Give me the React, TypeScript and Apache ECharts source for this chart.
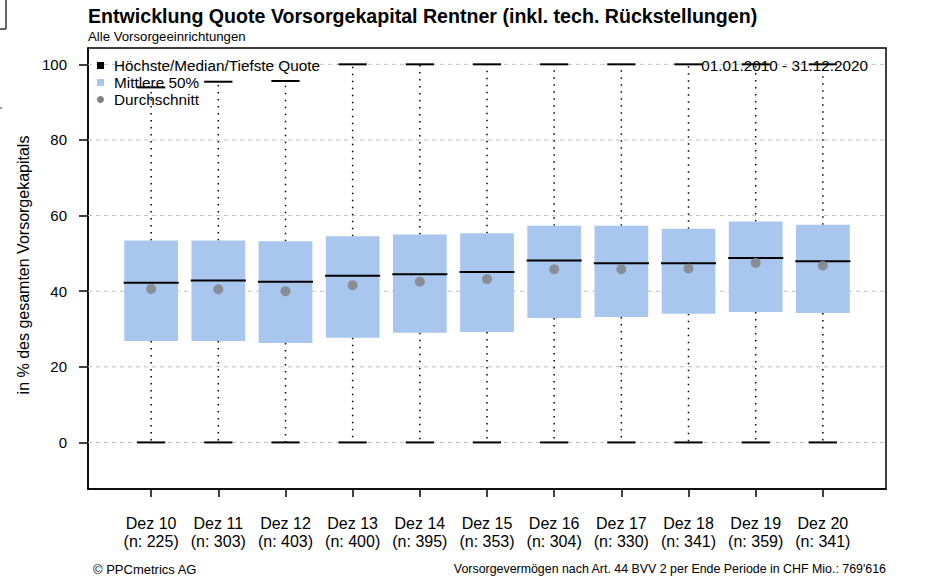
import React, { useEffect, useRef } from "react";
import * as echarts from "echarts";

const categories = ["Dez 10", "Dez 11", "Dez 12", "Dez 13", "Dez 14", "Dez 15", "Dez 16", "Dez 17", "Dez 18", "Dez 19", "Dez 20"];
const counts = [225, 303, 403, 400, 395, 353, 304, 330, 341, 359, 341];
const maxValues = [93.9, 95.4, 95.6, 100, 100, 100, 100, 100, 100, 100, 100];
const q3Values = [53.4, 53.4, 53.2, 54.5, 55.0, 55.3, 57.3, 57.3, 56.5, 58.4, 57.6];
const medianValues = [42.2, 42.8, 42.5, 44.1, 44.5, 45.1, 48.1, 47.4, 47.4, 48.8, 47.9];
const q1Values = [26.8, 26.8, 26.3, 27.7, 29.0, 29.2, 32.9, 33.2, 34.0, 34.5, 34.2];
const minValues = [0, 0, 0, 0, 0, 0, 0, 0, 0, 0, 0];
const meanValues = [40.6, 40.5, 40.0, 41.6, 42.5, 43.2, 45.8, 45.8, 46.0, 47.5, 46.8];
const yTicks = [0, 20, 40, 60, 80, 100];

const X_MIN = 0.06;
const X_MAX = 11.94;
const Y_MIN = -12.32;
const Y_MAX = 104.32;

export default function App() {
  const ref = useRef<HTMLDivElement>(null);

  useEffect(() => {
    if (!ref.current) return;
    const chart = echarts.init(ref.current, undefined, { renderer: "svg" });
    const positions = categories.map((_, i) => i + 1);
    const boxData = categories.map((_, i) => [i + 1, minValues[i], q1Values[i], medianValues[i], q3Values[i], maxValues[i]]);
    const meanData = categories.map((_, i) => [i + 1, meanValues[i]]);
    const font = "'Liberation Sans', Arial, sans-serif";

    const option: any = {
      animation: false,
      textStyle: { fontFamily: font },
      grid: {
        left: 88,
        right: 40,
        top: 48,
        bottom: 89,
        show: true,
        borderColor: "#000",
        borderWidth: 1.5,
        backgroundColor: "transparent",
      },
      xAxis: {
        type: "value",
        min: X_MIN,
        max: X_MAX,
        splitLine: { show: false },
        axisLine: { show: true, onZero: false, lineStyle: { color: "#000", width: 1.5 } },
        axisTick: { show: true, customValues: positions, length: 8, lineStyle: { color: "#000", width: 1.5 } },
        axisLabel: {
          customValues: positions,
          formatter: (v: number) => {
            const i = Math.round(v) - 1;
            return categories[i] + "\n(n: " + counts[i] + ")";
          },
          color: "#000",
          fontSize: 16,
          lineHeight: 18,
          margin: 25,
          fontFamily: font,
        },
      },
      yAxis: {
        type: "value",
        min: Y_MIN,
        max: Y_MAX,
        splitLine: { show: false },
        axisLine: { show: true, lineStyle: { color: "#000", width: 1.5 } },
        axisTick: { show: true, customValues: yTicks, length: 9, lineStyle: { color: "#000", width: 1.5 } },
        axisLabel: { customValues: yTicks, color: "#000", fontSize: 15, margin: 21, fontFamily: font },
      },
      series: [
        {
          type: "custom",
          name: "grid",
          z: 1,
          silent: true,
          data: yTicks.map((v) => [v]),
          renderItem: (params: any, api: any) => {
            const v = api.value(0);
            const a = api.coord([X_MIN, v]);
            const b = api.coord([X_MAX, v]);
            return {
              type: "line",
              shape: { x1: a[0], y1: a[1], x2: b[0], y2: b[1] },
              style: { stroke: "#c0c0c0", lineWidth: 1, lineDash: [4, 4] },
            };
          },
        },
        {
          type: "custom",
          name: "box",
          z: 2,
          silent: true,
          data: boxData,
          renderItem: (params: any, api: any) => {
            const x = api.value(0);
            const lo = api.value(1);
            const q1 = api.value(2);
            const med = api.value(3);
            const q3 = api.value(4);
            const hi = api.value(5);
            const tl = api.coord([x - 0.4, q3]);
            const br = api.coord([x + 0.4, q1]);
            const mL = api.coord([x - 0.41, med]);
            const mR = api.coord([x + 0.41, med]);
            const c = api.coord([x, hi]);
            const cq3 = api.coord([x, q3]);
            const cq1 = api.coord([x, q1]);
            const cl = api.coord([x, lo]);
            const sHL = api.coord([x - 0.21, hi]);
            const sHR = api.coord([x + 0.21, hi]);
            const sLL = api.coord([x - 0.21, lo]);
            const sLR = api.coord([x + 0.21, lo]);
            const dot = { stroke: "#000", lineWidth: 1.5, lineDash: [1.5, 5.5] };
            return {
              type: "group",
              children: [
                { type: "line", shape: { x1: c[0], y1: cq3[1], x2: c[0], y2: c[1] }, style: dot },
                { type: "line", shape: { x1: c[0], y1: cq1[1], x2: c[0], y2: cl[1] }, style: dot },
                {
                  type: "rect",
                  shape: { x: tl[0], y: tl[1], width: br[0] - tl[0], height: br[1] - tl[1] },
                  style: { fill: "#a9c6ee" },
                },
                { type: "line", shape: { x1: mL[0], y1: mL[1], x2: mR[0], y2: mR[1] }, style: { stroke: "#000", lineWidth: 2 } },
                { type: "line", shape: { x1: sHL[0], y1: sHL[1], x2: sHR[0], y2: sHR[1] }, style: { stroke: "#000", lineWidth: 2 } },
                { type: "line", shape: { x1: sLL[0], y1: sLL[1], x2: sLR[0], y2: sLR[1] }, style: { stroke: "#000", lineWidth: 2 } },
              ],
            };
          },
        },
        {
          type: "scatter",
          name: "Durchschnitt",
          z: 3,
          silent: true,
          data: meanData,
          symbol: "circle",
          symbolSize: 10,
          itemStyle: { color: "#808080" },
        },
      ],
      graphic: [
        { type: "line", shape: { x1: 6, y1: 0, x2: 6, y2: 29 }, style: { stroke: "#333", lineWidth: 1.5 } },
        { type: "line", shape: { x1: 0, y1: 29, x2: 6, y2: 29 }, style: { stroke: "#333", lineWidth: 1.5 } },
        { type: "line", shape: { x1: 0, y1: 108, x2: 2, y2: 108 }, style: { stroke: "#333", lineWidth: 1 } },
        {
          type: "text",
          x: 88,
          y: 16,
          z: 10,
          style: { text: "Entwicklung Quote Vorsorgekapital Rentner (inkl. tech. Rückstellungen)", fontSize: 19.6, fontWeight: "bold", fill: "#000", fontFamily: font, verticalAlign: "middle" },
        },
        {
          type: "text",
          x: 88,
          y: 36,
          z: 10,
          style: { text: "Alle Vorsorgeeinrichtungen", fontSize: 13.2, fill: "#000", fontFamily: font, verticalAlign: "middle" },
        },
        { type: "rect", z: 10, shape: { x: 97, y: 62, width: 7, height: 7 }, style: { fill: "#000" } },
        { type: "rect", z: 10, shape: { x: 97, y: 79, width: 7, height: 7 }, style: { fill: "#a9c6ee" } },
        { type: "circle", z: 10, shape: { cx: 100.5, cy: 99.5, r: 3.5 }, style: { fill: "#808080" } },
        {
          type: "text", z: 10, x: 114, y: 65,
          style: { text: "Höchste/Median/Tiefste Quote", fontSize: 15.3, fill: "#000", fontFamily: font, verticalAlign: "middle" },
        },
        {
          type: "text", z: 10, x: 114, y: 82,
          style: { text: "Mittlere 50%", fontSize: 15.3, fill: "#000", fontFamily: font, verticalAlign: "middle" },
        },
        {
          type: "text", z: 10, x: 114, y: 99,
          style: { text: "Durchschnitt", fontSize: 15.3, fill: "#000", fontFamily: font, verticalAlign: "middle" },
        },
        {
          type: "text", z: 10, x: 868, y: 65,
          style: { text: "01.01.2010 - 31.12.2020", fontSize: 15.3, fill: "#000", fontFamily: font, align: "right", verticalAlign: "middle" },
        },
        {
          type: "text", z: 10, x: 23, y: 265, rotation: Math.PI / 2,
          style: { text: "in % des gesamten Vorsorgekapitals", fontSize: 16, fill: "#000", fontFamily: font, align: "center", verticalAlign: "middle" },
        },
        {
          type: "text", z: 10, x: 93, y: 569,
          style: { text: "© PPCmetrics AG", fontSize: 13, fill: "#000", fontFamily: font, verticalAlign: "middle" },
        },
        {
          type: "text", z: 10, x: 886, y: 569,
          style: { text: "Vorsorgevermögen nach Art. 44 BVV 2 per Ende Periode in CHF Mio.: 769'616", fontSize: 12.4, fill: "#000", fontFamily: font, align: "right", verticalAlign: "middle" },
        },
      ],
    };

    chart.setOption(option);
    return () => chart.dispose();
  }, []);

  return (
    <div
      ref={ref}
      style={{ position: "absolute", left: 0, top: 0, width: 926, height: 578, background: "#fff" }}
    />
  );
}
